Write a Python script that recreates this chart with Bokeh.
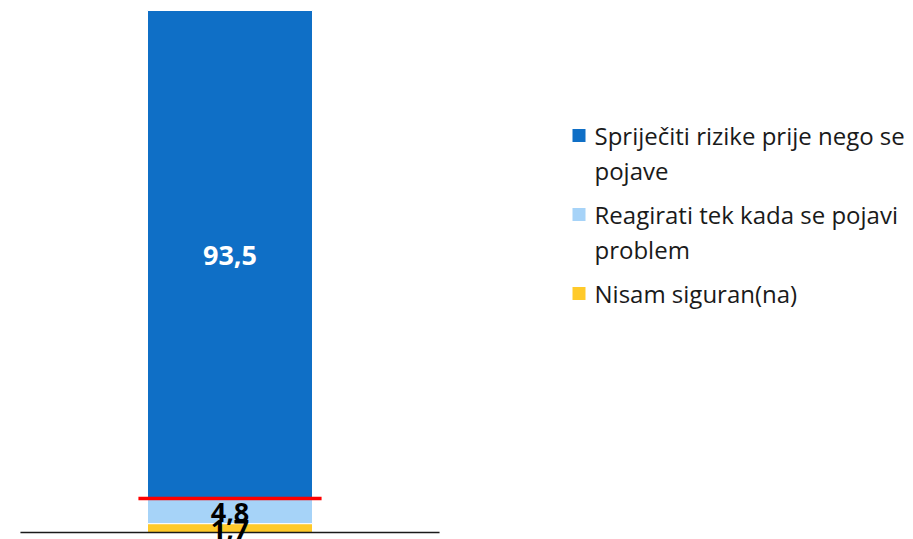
from bokeh.plotting import figure
from bokeh.models import ColumnDataSource, Range1d, Label, BoxAnnotation
from bokeh.core.properties import value
from bokeh.embed import file_html
from bokeh.resources import INLINE

# ---- data ----
categories = ["Ukupno"]
series_names = ["Spriječiti rizike prije nego se\npojave",
                "Reagirati tek kada se pojavi\nproblem",
                "Nisam siguran(na)"]
prevent = [93.5]
react = [4.8]
unsure = [1.7]

col_prevent, col_react, col_unsure = "#0F6FC6", "#A6D3F8", "#FFCA2A"

x_pos = list(range(len(categories)))
src = ColumnDataSource(dict(x=x_pos, prevent=prevent, react=react, unsure=unsure))

px_per_unit_x = 165.0
px_per_unit_y = 5.22
W, H = 905, 539
x0 = -229.5 / px_per_unit_x
y0 = -7.0 / px_per_unit_y

p = figure(width=W, height=H, output_backend="svg", toolbar_location=None,
           x_range=Range1d(x0, x0 + W / px_per_unit_x),
           y_range=Range1d(y0, y0 + H / px_per_unit_y),
           x_axis_location=None, y_axis_location=None, min_border=0)
p.xgrid.visible = False
p.ygrid.visible = False
p.outline_line_color = None

stack_keys = ["unsure", "react", "prevent"]
p.vbar_stack(stack_keys, x="x", width=1.0, source=src,
             color=[col_unsure, col_react, col_prevent],
             line_color="white", line_width=1)

# baseline (category axis line)
p.segment(x0=[x - 1.27 for x in x_pos], x1=[x + 1.27 for x in x_pos],
          y0=[0] * len(x_pos), y1=[0] * len(x_pos), line_color="#1a1a1a", line_width=1.5)

# red marker line at top of "react" segment
tops = [u + r for u, r in zip(unsure, react)]
p.segment(x0=[x - 0.555 for x in x_pos], x1=[x + 0.555 for x in x_pos],
          y0=tops, y1=tops, line_color="#FF0000", line_width=3.5)

def fmt(v):
    return f"{v:.1f}".replace(".", ",")

# value labels at segment centres
lab_x, lab_y, lab_t, lab_c = [], [], [], []
for i, x in enumerate(x_pos):
    base = 0.0
    for arr, col in ((unsure, "#000000"), (react, "#000000"), (prevent, "#FFFFFF")):
        v = arr[i]
        lab_x.append(x)
        lab_y.append(base + v / 2)
        lab_t.append(fmt(v))
        lab_c.append(col)
        base += v
lsrc = ColumnDataSource(dict(x=lab_x, y=lab_y, t=lab_t, c=lab_c))
p.text(x="x", y="y", text="t", source=lsrc, text_color="c",
       text_font=value("Open Sans"), text_font_style="bold", text_font_size="27px",
       text_align="center", text_baseline="middle", y_offset=1)

# legend (drawn in screen units)
leg_colors = [col_prevent, col_react, col_unsure]
sq_left, sq_size, text_left = 572, 13, 594
line_pitch, item_gap = 34.5, 10
cur = H - 135  # screen y (from bottom) of first line centre
for name, c in zip(series_names, leg_colors):
    p.add_layout(BoxAnnotation(left=sq_left, right=sq_left + sq_size,
                               bottom=cur - sq_size / 2, top=cur + sq_size / 2,
                               left_units="screen", right_units="screen",
                               bottom_units="screen", top_units="screen",
                               fill_color=c, fill_alpha=1, line_color=None))
    for line in name.split("\n"):
        p.add_layout(Label(x=text_left, y=cur, x_units="screen", y_units="screen",
                           text=line, text_font="Open Sans", text_font_size="24px",
                           text_color="#1a1a1a", text_baseline="middle", text_align="left"))
        cur -= line_pitch
    cur -= item_gap

open("out.html", "w").write(file_html(p, INLINE))
